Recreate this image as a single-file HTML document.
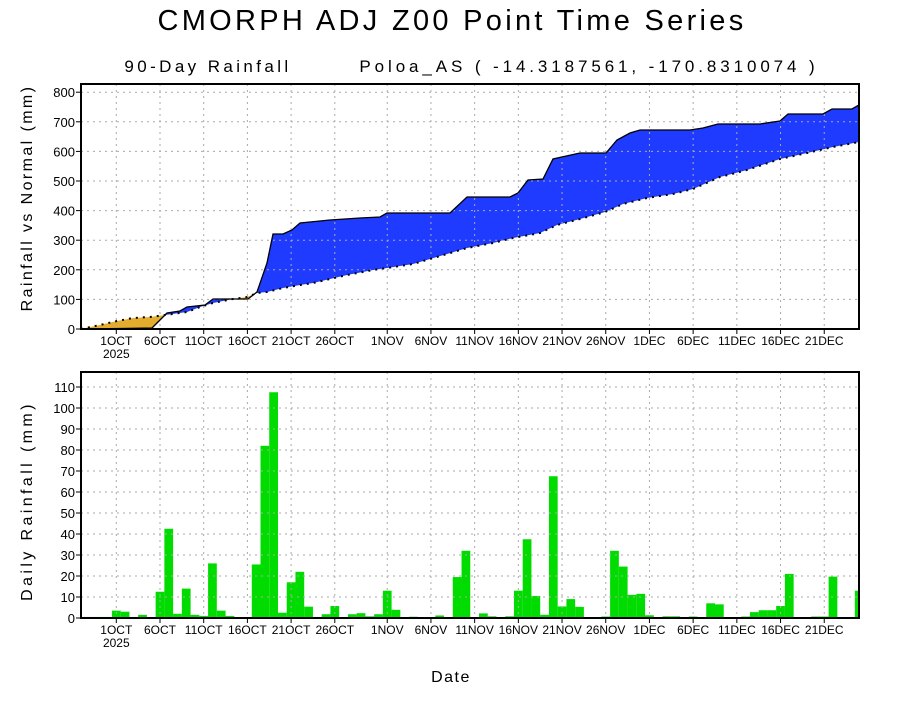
<!DOCTYPE html>
<html><head><meta charset="utf-8"><style>
body{margin:0;background:#fff;width:900px;height:700px;overflow:hidden}
svg text{font-family:"Liberation Sans",sans-serif;fill:#000}
</style></head><body>
<svg id="s" width="900" height="700" xmlns="http://www.w3.org/2000/svg">
<defs>
<clipPath id="top"><rect x="81" y="84" width="778" height="245"/></clipPath>
<clipPath id="bot"><rect x="81" y="372" width="778" height="246"/></clipPath>
</defs>
<text x="452" y="30" font-size="29" text-anchor="middle" letter-spacing="3.3">CMORPH ADJ Z00 Point Time Series</text>
<text x="208" y="72" font-size="17" text-anchor="middle" letter-spacing="3.4">90-Day Rainfall</text>
<text x="589" y="72" font-size="17" text-anchor="middle" letter-spacing="3.9">Poloa_AS ( -14.3187561, -170.8310074 )</text>
<text transform="translate(32,198) rotate(-90)" font-size="16" text-anchor="middle" letter-spacing="2.4">Rainfall vs Normal (mm)</text>
<text transform="translate(32,501) rotate(-90)" font-size="16" text-anchor="middle" letter-spacing="3.4">Daily Rainfall (mm)</text>
<text x="451" y="682" font-size="16" text-anchor="middle" letter-spacing="1.5">Date</text>
<g id="g"></g>
</svg>
<script>
var NS="http://www.w3.org/2000/svg",g=document.getElementById('g');
function el(t,a,p){var e=document.createElementNS(NS,t);for(var k in a)e.setAttribute(k,a[k]);(p||g).appendChild(e);return e;}
function X(d){return 116.3+8.74*d;}
var ticks=[[0,"1OCT"],[5,"6OCT"],[10,"11OCT"],[15,"16OCT"],[20,"21OCT"],[25,"26OCT"],[31,"1NOV"],[36,"6NOV"],[41,"11NOV"],[46,"16NOV"],[51,"21NOV"],[56,"26NOV"],[61,"1DEC"],[66,"6DEC"],[71,"11DEC"],[76,"16DEC"],[81,"21DEC"]];
var obs=[[81,329],[152,328],[158,322],[165,315],[167,313],[180,311],[187,307],[205,305],[213,299],[248,299],[257,292],[267,263],[273,234],[283,234],[292,230],[300,223],[330,220],[360,218],[380,217],[387,213],[450,213],[467,197],[510,197],[518,193],[528,180],[543,179],[553,159],[580,153],[606,153],[617,140],[630,133],[640,130],[690,130],[703,128],[718,124],[760,124],[780,121],[788,114],[823,114],[832,109],[852,109],[859,105]];
var nor=[[81,329],[100,325],[117,321],[133,318],[150,317],[165,315],[187,312],[200,307],[213,303],[233,299],[247,297],[257,293],[267,292],[283,288],[300,285],[313,283],[347,275],[373,270],[387,268],[413,264],[430,259],[447,254],[467,248],[493,243],[513,238],[540,233],[557,225],[580,219],[605,212],[623,204],[647,198],[673,194],[693,189],[720,177],[747,170],[780,159],[807,153],[833,147],[859,142]];
function pts(a){return a.map(function(p){return p.join(',')}).join(' ');}
var d=document.querySelector('defs');
el('clipPath',{id:'uo'},d).appendChild(el('polygon',{points:pts(obs)+' 859,340 81,340'},d));
el('clipPath',{id:'ao'},d).appendChild(el('polygon',{points:pts(obs)+' 859,80 81,80'},d));
var gt=el('g',{'clip-path':'url(#top)'});
el('polygon',{points:pts(nor)+' 859,80 81,80',fill:'#1f3bff','clip-path':'url(#uo)'},gt);
el('polygon',{points:pts(nor)+' 859,340 81,340',fill:'#e5ad2e','clip-path':'url(#ao)'},gt);
var v={'-4':.5,'-3':.5,'-2':.5,'-1':.5,0:3.5,1:3,2:.5,3:1.5,4:.3,5:12.5,6:42.5,7:2,8:14,9:1.5,10:1,11:26,12:3.5,13:1,14:.3,15:.3,16:25.5,17:82,18:107.5,19:2.5,20:17,21:22,22:5.4,23:.5,24:1.8,25:5.7,26:.2,27:1.8,28:2.3,29:.8,30:1.8,31:13,32:3.9,33:.2,34:.6,35:.2,36:.2,37:1.2,38:.2,39:19.5,40:32,41:0,42:2.2,43:.8,44:.2,45:.8,46:13,47:37.5,48:10.5,49:1.5,50:67.5,51:5.5,52:9,53:5.3,54:0,55:0,56:.7,57:32,58:24.5,59:11,60:11.5,61:1.3,62:.3,63:.8,64:.8,65:0,66:.7,67:.2,68:7,69:6.5,70:.3,71:0,72:.7,73:2.8,74:3.7,75:3.7,76:5.7,77:21,78:.3,79:0,80:.7,81:.7,82:19.7,83:0,84:0,85:13};
var gb=el('g',{'clip-path':'url(#bot)'});
for(var k in v){var h=v[k]*2.1;if(h<=0)continue;el('rect',{x:X(+k)-4.37,y:618-h,width:8.74,height:h,fill:'#00dc00'},gb);}
function grid(y0,y1){ticks.forEach(function(t){el('line',{x1:X(t[0]),x2:X(t[0]),y1:y0,y2:y1,stroke:'#aaa','stroke-dasharray':'2,4'});});}
grid(84,329);grid(372,618);
for(var i=1;i<=8;i++){var y=329-i*29.6;el('line',{x1:81,x2:859,y1:y,y2:y,stroke:'#aaa','stroke-dasharray':'2,4'});}
for(var i=1;i<=11;i++){var y=618-i*21;el('line',{x1:81,x2:859,y1:y,y2:y,stroke:'#aaa','stroke-dasharray':'2,4'});}
el('polyline',{points:pts(obs),fill:'none',stroke:'#000','stroke-width':1.3,'clip-path':'url(#top)'});
el('polyline',{points:pts(nor),fill:'none',stroke:'#000','stroke-width':2,'stroke-dasharray':'2,5','clip-path':'url(#top)'});
el('rect',{x:81,y:84,width:778,height:245,fill:'none',stroke:'#000','stroke-width':2});
el('rect',{x:81,y:372,width:778,height:246,fill:'none',stroke:'#000','stroke-width':2});
for(var i=0;i<=8;i++){var y=329-i*29.6;el('line',{x1:76,x2:81,y1:y,y2:y,stroke:'#000'});el('text',{x:75,y:y+5,'font-size':13,'text-anchor':'end'}).textContent=i*100;}
for(var i=0;i<=11;i++){var y=618-i*21;el('line',{x1:76,x2:81,y1:y,y2:y,stroke:'#000'});el('text',{x:75,y:y+5,'font-size':13,'text-anchor':'end'}).textContent=i*10;}
[[329,345],[618,634]].forEach(function(p){ticks.forEach(function(t){var x=X(t[0]);el('line',{x1:x,x2:x,y1:p[0],y2:p[0]+5,stroke:'#000'});el('text',{x:x,y:p[1],'font-size':12,'text-anchor':'middle'}).textContent=t[1];});
el('text',{x:X(0),y:p[1]+13,'font-size':12,'text-anchor':'middle'}).textContent='2025';});
</script>
</body></html>
